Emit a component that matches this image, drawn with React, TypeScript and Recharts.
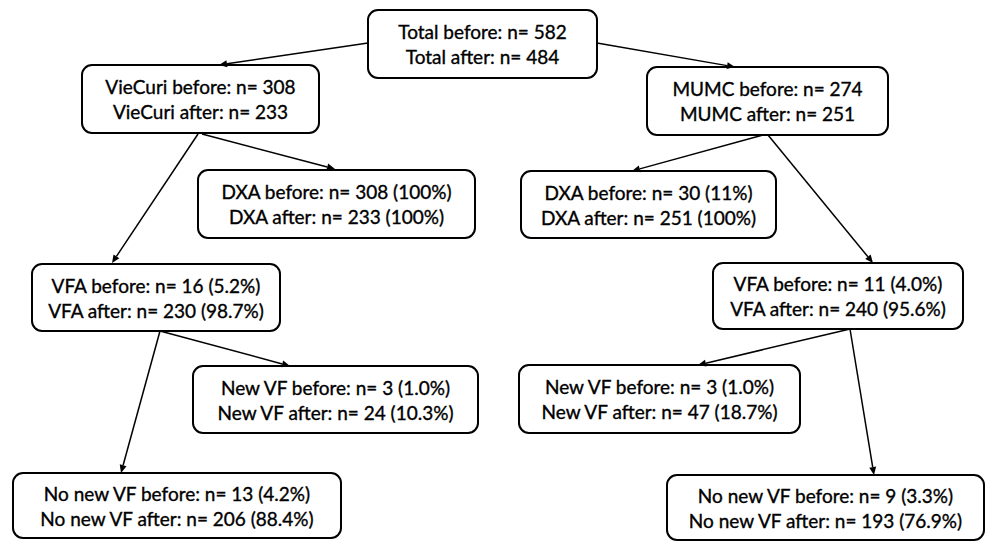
import React from "react";
import { ScatterChart, Scatter, XAxis, YAxis, ReferenceArea, ReferenceLine } from "recharts";

// node contents
const groups = ["Total", "VieCuri", "MUMC", "DXA", "DXA", "VFA", "VFA", "New VF", "New VF", "No new VF", "No new VF"];
const beforeN = [582, 308, 274, 308, 30, 16, 11, 3, 3, 13, 9];
const afterN = [484, 233, 251, 233, 251, 230, 240, 24, 47, 206, 193];
const beforePct = ["", "", "", "100%", "11%", "5.2%", "4.0%", "1.0%", "1.0%", "4.2%", "3.3%"];
const afterPct = ["", "", "", "100%", "100%", "98.7%", "95.6%", "10.3%", "18.7%", "88.4%", "76.9%"];

// parent -> child links
const edges: [number, number][] = [
  [0, 1], [0, 2], [1, 3], [1, 5], [2, 4], [2, 6], [5, 7], [5, 9], [6, 8], [6, 10],
];

// layout in a 987 x 541 coordinate space (left, top, right, bottom)
const boxLayout = [
  [368, 10, 597, 78],
  [82, 65, 319, 133],
  [647, 67, 888, 135],
  [198, 170, 475, 238],
  [521, 171, 776, 238],
  [32, 264, 280, 331],
  [713, 263, 963, 329],
  [193, 366, 478, 433],
  [519, 365, 800, 433],
  [13, 473, 341, 538],
  [667, 475, 984, 540],
];
// arrow start / end points, same order as edges
const edgeLayout = [
  [368, 43, 219, 65],
  [597, 43, 735, 67],
  [202, 134, 335, 169],
  [198, 134, 112, 263],
  [763, 135, 632, 171],
  [768, 135, 873, 263],
  [160, 331, 290, 366],
  [160, 331, 121, 473],
  [850, 329, 698, 365],
  [850, 329, 874, 475],
];

const W = 987;
const H = 541;
const FONT = "Lato, 'Open Sans', sans-serif";

const label = (i: number, when: "before" | "after") => {
  const n = when === "before" ? beforeN[i] : afterN[i];
  const p = when === "before" ? beforePct[i] : afterPct[i];
  return `${groups[i]} ${when}: n= ${n}${p ? ` (${p})` : ""}`;
};

const nodes = groups.map((g, i) => {
  const [l, t, r, b] = boxLayout[i];
  return { x: (l + r) / 2, y: (t + b) / 2, idx: i };
});

const NodeText = (props: any) => {
  const { cx, cy, payload } = props;
  const i = payload.idx;
  const common = {
    textAnchor: "middle" as const,
    fontFamily: FONT,
    fontSize: 19,
    fill: "#000",
    stroke: "#000",
    strokeWidth: 0.35,
  };
  return (
    <g>
      <text x={cx} y={cy - 5} {...common}>
        {label(i, "before")}
      </text>
      <text x={cx} y={cy + 20} {...common}>
        {label(i, "after")}
      </text>
    </g>
  );
};

const Arrow = (props: any) => {
  const { x1, y1, x2, y2 } = props;
  const ang = Math.atan2(y2 - y1, x2 - x1);
  const len = 8;
  const half = 3.5;
  const bx = x2 - len * Math.cos(ang);
  const by = y2 - len * Math.sin(ang);
  const px = -Math.sin(ang) * half;
  const py = Math.cos(ang) * half;
  return (
    <g>
      <line x1={x1} y1={y1} x2={bx} y2={by} stroke="#000" strokeWidth={1.5} />
      <polygon points={`${x2},${y2} ${bx + px},${by + py} ${bx - px},${by - py}`} fill="#000" />
    </g>
  );
};

export default function App() {
  return (
    <div style={{ position: "absolute", left: 0, top: 0, width: W, height: H, background: "#fff" }}>
      <ScatterChart width={W} height={H} margin={{ top: 0, right: 0, bottom: 0, left: 0 }}>
        <XAxis type="number" dataKey="x" domain={[0, W]} hide allowDataOverflow />
        <YAxis type="number" dataKey="y" domain={[0, H]} reversed hide allowDataOverflow />
        {edges.map((e, k) => {
          const [x1, y1, x2, y2] = edgeLayout[k];
          return (
            <ReferenceLine
              key={`e${k}`}
              segment={[{ x: x1, y: y1 }, { x: x2, y: y2 }]}
              ifOverflow="visible"
              shape={(p: any) => <Arrow {...p} />}
            />
          );
        })}
        {boxLayout.map(([l, t, r, b], i) => (
          <ReferenceArea
            key={`b${i}`}
            x1={l}
            x2={r}
            y1={t}
            y2={b}
            ifOverflow="visible"
            fill="#fff"
            fillOpacity={1}
            stroke="#000"
            strokeWidth={2}
            radius={10}
          />
        ))}
        <Scatter data={nodes} isAnimationActive={false} shape={NodeText} />
      </ScatterChart>
    </div>
  );
}
